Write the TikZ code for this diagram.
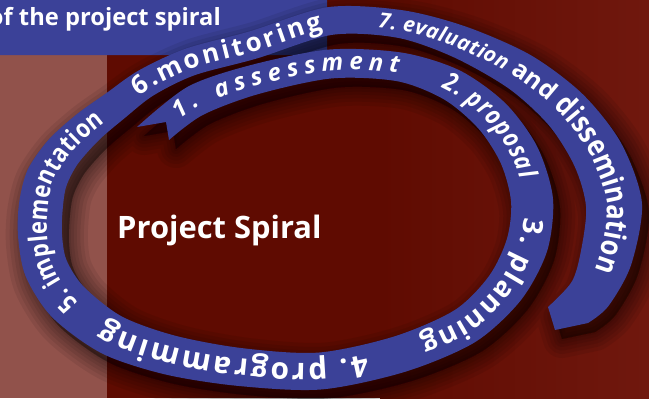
\documentclass[tikz,border=0pt]{standalone}
\usepackage{fontspec}
\setmainfont{Open Sans}
\newfontfamily\spf[FakeStretch=0.85]{Open Sans}
\usetikzlibrary{calc,decorations.text}

\definecolor{bgred}{RGB}{95,11,1}
\definecolor{bgredlt}{RGB}{112,24,14}
\definecolor{stripred}{RGB}{145,82,75}
\definecolor{spblue}{RGB}{59,65,152}

\newcommand{\lf}[1]{\bfseries\fontsize{#1}{#1}\selectfont}
\newcommand{\lfn}[1]{\spf\bfseries\fontsize{#1}{#1}\selectfont}

% centre line of the spiral band: x/y/width
\newcommand{\spinedata}{153/133/34, 195/101/32, 253/80/30, 330/64/29, 400/67/29,
  452/85/33, 492/116/37, 519/155/40, 532/200/42, 527/245/42, 505/288/40,
  465/326/38, 400/354/37, 320/371/37, 240/367/38, 170/355/40, 112/335/42,
  68/302/44, 46/268/44, 40/235/44, 41/205/44, 47/178/42, 63/152/38,
  88/127/34, 115/106/31, 146/83/29, 190/62/28, 253/45/28, 330/21/28,
  400/24/28, 460/42/33, 520/72/40, 566/110/46, 598/155/52, 614/205/56,
  606/258/52, 590/294/44, 568/315/40}
\newcommand{\spine}{plot[smooth] coordinates {(c0) (c1) (c2) (c3) (c4) (c5)
  (c6) (c7) (c8) (c9) (c10) (c11) (c12) (c13) (c14) (c15) (c16) (c17) (c18)
  (c19) (c20) (c21) (c22) (c23) (c24) (c25) (c26) (c27) (c28) (c29) (c30)
  (c31) (c32) (c33) (c34) (c35) (c36) (c37)}}
\newcommand{\bandpath}{plot[smooth] coordinates {(137,127) (o1) (o2) (o3)
  (o4) (o5) (o6) (o7) (o8) (o9) (o10) (o11) (o12) (o13) (o14) (o15) (o16)
  (o17) (o18) (o19) (o20) (o21) (o22) (o23) (o24) (o25) (o26) (o27) (o28)
  (o29) (o30) (o31) (o32) (o33) (o34) (o35) (o36) (588,323)}
  -- (555,330)
  -- plot[smooth] coordinates {(548,307) (n36) (n35) (n34) (n33) (n32) (n31)
  (n30) (n29) (n28) (n27) (n26) (n25) (n24) (n23) (n22) (n21) (n20) (n19)
  (n18) (n17) (n16) (n15) (n14) (n13) (n12) (n11) (n10) (n9) (n8) (n7) (n6)
  (n5) (n4) (n3) (n2) (n1) (169,140)}
  -- (166,122) -- cycle}

\begin{document}
\begin{tikzpicture}[x=1bp, y=-1bp,
    band/.style={fill=spblue},
    bandshadow/.style={fill=black, draw=black, line join=round, opacity=0.075},
    whitetxt/.style={text=white, inner sep=0pt},
    spiraltext/.style n args={4}{decorate, decoration={text along path,
        text color=white, raise=#2,
        text align={fit to path, left indent=#3, right indent=#4}, text={#1}}},
  ]
  \useasboundingbox (0,0) rectangle (649,398);
  \fill[bgred] (0,0) rectangle (649,398);
  \shade[left color=bgred, right color=bgredlt] (380,0) rectangle (649,398);
  \fill[stripred] (0,55) rectangle (107,398);
  \fill[spblue, rounded corners=6bp] (-12,-12) rectangle (327,55);
  \node[whitetxt, font=\bfseries\fontsize{23.8}{26}\selectfont, anchor=base east]
    (banner) at (221,25) {of the project spiral};

  % spine points and band edges
  \foreach \x/\y/\w [count=\i from 0] in \spinedata
    \coordinate (c\i) at (\x,\y);
  \foreach \x/\y/\w [count=\i from 0] in \spinedata {
    \pgfmathtruncatemacro\pv{max(\i-1,0)}
    \pgfmathtruncatemacro\nx{min(\i+1,37)}
    \coordinate (d\i) at ($(c\i)+(c\nx)-(c\pv)$);
    \coordinate (o\i) at ($(c\i)!{\w*0.5bp}!90:(d\i)$);
    \coordinate (n\i) at ($(c\i)!{\w*0.5bp}!-90:(d\i)$);
  }

  % soft shadow, then the band
  \begin{scope}[transform canvas={shift={(7bp,-9bp)}}]
    \foreach \s in {38,30,23,16,10,4}
      \path[bandshadow, line width=\s bp] \bandpath;
  \end{scope}
  \fill[band] \bandpath;

  % labels along the band
  \path[spiraltext={|\lf{24}\itshape|1. assessment}{-6.5bp}{30bp}{1729bp}] \spine;
  \path[spiraltext={|\lfn{26}\itshape|2. proposal}{-7bp}{311bp}{1551bp}] \spine;
  \path[spiraltext={|\lf{28}|3. planning}{-7.5bp}{483bp}{1332bp}] \spine;
  \path[spiraltext={|\lf{30}|4. programming}{-8bp}{717bp}{1000bp}] \spine;
  \path[spiraltext={|\lfn{26}|5. implementation}{-7bp}{1027bp}{743bp}] \spine;
  \path[spiraltext={|\lf{26}|6.monitoring}{-7bp}{1292bp}{501bp}] \spine;
  \path[spiraltext={|\lf{21}\itshape|7. evaluation |\lf{25}|and |\lfn{30}|dissemination}{-6.5bp}{1549bp}{55bp}] \spine;

  \node[whitetxt, font=\bfseries\fontsize{31}{34}\selectfont, anchor=base west]
    (title) at (117,238) {Project Spiral};
\end{tikzpicture}
\end{document}
